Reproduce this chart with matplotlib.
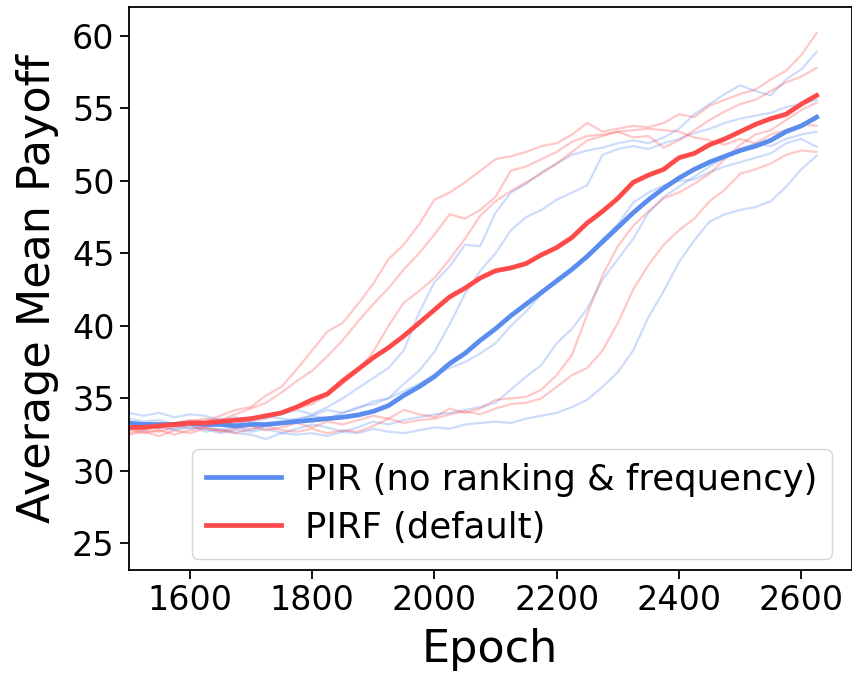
import numpy as np
import matplotlib
matplotlib.use("Agg")
import matplotlib.pyplot as plt

epochs = list(range(1500, 2626, 25))

# thin individual runs (PIR, blue)
pir_run1 = [34.0, 33.8, 34.0, 33.7, 33.9, 33.8, 33.5, 33.7, 33.4, 33.6, 33.9, 34.2, 33.9, 34.4, 35.0, 35.7,
            36.4, 37.1, 38.3, 40.9, 43.0, 44.1, 45.6, 45.5, 47.8, 49.2, 49.8, 50.6, 51.2, 51.8, 52.1, 52.3,
            52.6, 52.8, 52.6, 53.0, 53.6, 54.6, 55.3, 56.0, 56.6, 56.2, 55.9, 57.0, 57.7, 58.9]
pir_run2 = [33.6, 33.4, 33.5, 33.2, 33.4, 33.2, 33.6, 33.3, 33.5, 33.8, 33.6, 33.5, 33.8, 33.6, 34.0, 34.3,
            34.8, 35.0, 36.0, 36.9, 38.2, 40.1, 42.2, 43.8, 45.0, 46.6, 47.5, 48.0, 48.7, 49.2, 49.7, 51.8,
            52.2, 52.4, 52.2, 52.6, 52.9, 53.3, 53.6, 54.0, 54.3, 54.5, 54.7, 55.1, 55.3, 55.6]
pir_run3 = [33.1, 33.3, 33.0, 33.2, 32.9, 33.1, 32.8, 33.0, 32.8, 33.1, 33.3, 33.6, 33.8, 34.2, 34.0, 34.4,
            34.6, 35.0, 35.5, 36.0, 36.6, 37.1, 37.5, 38.1, 38.8, 40.0, 41.0, 42.2, 43.2, 44.0, 44.8, 46.0,
            47.0, 48.5, 49.2, 49.7, 50.0, 50.1, 50.6, 51.0, 51.3, 51.6, 51.9, 52.6, 52.9, 52.35]
pir_run4 = [33.0, 32.8, 33.1, 32.9, 33.2, 32.7, 32.9, 32.6, 32.5, 32.2, 32.6, 32.9, 33.2, 33.0, 32.7, 33.0,
            33.4, 33.2, 33.5, 33.7, 33.9, 34.0, 34.2, 34.4, 34.7, 35.6, 36.5, 37.3, 38.8, 39.8, 41.2, 43.2,
            44.6, 46.0, 47.8, 48.9, 49.6, 50.3, 51.0, 51.6, 52.2, 52.6, 52.4, 52.9, 53.2, 53.4]
pir_run5 = [33.4, 33.2, 33.0, 32.8, 33.0, 32.9, 32.6, 32.8, 32.7, 32.9, 32.6, 32.5, 32.6, 32.4, 32.7, 32.6,
            32.9, 32.7, 32.6, 32.8, 33.0, 32.9, 33.2, 33.3, 33.4, 33.3, 33.6, 33.8, 34.0, 34.4, 34.9, 35.8,
            36.8, 38.3, 40.6, 42.4, 44.4, 45.9, 47.2, 47.7, 48.0, 48.2, 48.6, 49.6, 50.8, 51.75]

# thin individual runs (PIRF, red)
pirf_run1 = [32.8, 33.0, 32.9, 33.3, 33.5, 33.4, 33.8, 34.2, 34.4, 35.2, 35.8, 37.0, 38.3, 39.6, 40.2, 41.5,
             42.9, 44.6, 45.6, 47.0, 48.7, 49.2, 49.9, 50.7, 51.5, 51.7, 52.0, 52.4, 52.6, 53.2, 54.0, 53.4,
             53.6, 53.8, 53.7, 54.0, 54.6, 54.4, 55.2, 55.6, 56.0, 56.3, 57.0, 57.6, 58.7, 60.2]
pirf_run2 = [33.2, 33.0, 33.3, 33.1, 33.4, 33.6, 33.5, 33.9, 34.3, 34.7, 35.4, 36.2, 36.9, 37.9, 39.0, 40.3,
             41.5, 42.6, 43.9, 45.0, 46.3, 47.7, 47.4, 48.0, 48.9, 50.7, 51.0, 51.5, 52.0, 52.7, 53.1, 53.2,
             53.4, 53.0, 53.1, 52.3, 52.8, 53.5, 54.2, 54.8, 55.3, 55.6, 56.2, 56.8, 57.2, 57.8]
pirf_run3 = [32.6, 32.8, 32.7, 33.0, 33.1, 33.0, 33.3, 33.2, 33.5, 33.7, 34.0, 34.3, 34.6, 35.2, 36.0, 36.9,
             38.2, 40.0, 41.6, 42.4, 43.3, 44.6, 46.0, 47.6, 48.6, 49.3, 49.9, 50.5, 51.2, 52.0, 52.8, 53.1,
             53.4, 53.5, 53.6, 53.5, 53.4, 53.0, 52.8, 52.5, 52.9, 52.6, 53.2, 53.5, 53.9, 53.8]
pirf_run4 = [32.9, 32.6, 32.8, 32.5, 32.8, 33.0, 32.7, 32.9, 33.1, 32.8, 33.0, 33.3, 33.0, 33.4, 33.2, 33.5,
             33.8, 33.6, 34.2, 33.9, 33.7, 34.3, 34.0, 34.3, 34.9, 35.0, 35.1, 35.6, 36.6, 38.0, 40.8, 43.5,
             45.5, 46.9, 47.9, 48.8, 49.2, 49.8, 50.5, 51.5, 52.5, 53.2, 53.5, 54.2, 54.9, 55.4]
pirf_run5 = [32.5, 32.7, 32.4, 32.8, 32.6, 32.9, 32.8, 32.6, 32.9, 33.1, 32.8, 32.7, 32.9, 32.6, 32.8, 32.7,
             33.1, 33.6, 33.3, 33.5, 33.6, 33.9, 34.1, 33.9, 34.3, 34.6, 34.7, 35.0, 35.8, 36.6, 37.1, 38.3,
             40.2, 42.5, 44.2, 45.6, 46.6, 47.4, 48.6, 49.4, 50.5, 50.8, 51.2, 51.8, 52.1, 52.0]

# averaged curves
pir_mean = [33.3, 33.2, 33.2, 33.2, 33.3, 33.2, 33.2, 33.1, 33.2, 33.2, 33.3, 33.4, 33.5, 33.6, 33.7, 33.85,
            34.1, 34.5, 35.2, 35.8, 36.5, 37.4, 38.1, 39.0, 39.8, 40.7, 41.5, 42.3, 43.1, 43.9, 44.8, 45.8,
            46.8, 47.8, 48.7, 49.5, 50.2, 50.8, 51.3, 51.7, 52.1, 52.4, 52.8, 53.4, 53.8, 54.4]
pirf_mean = [33.0, 33.0, 33.1, 33.2, 33.3, 33.3, 33.4, 33.5, 33.6, 33.8, 34.0, 34.4, 34.9, 35.3, 36.2, 37.0,
             37.8, 38.5, 39.3, 40.2, 41.1, 42.0, 42.6, 43.3, 43.8, 44.0, 44.3, 44.9, 45.4, 46.1, 47.1, 47.9,
             48.8, 49.9, 50.4, 50.8, 51.6, 51.9, 52.5, 52.9, 53.4, 53.9, 54.3, 54.6, 55.3, 55.9]

labels = ["PIR (no ranking & frequency)", "PIRF (default)"]
xticks = [1600, 1800, 2000, 2200, 2400, 2600]
yticks = [25, 30, 35, 40, 45, 50, 55, 60]

BLUE = "#5b8def"
RED = "#ff4a4a"

plt.rcParams['font.family'] = ['DejaVu Sans']
fig = plt.figure(figsize=(8.52, 6.76), dpi=100)
ax = fig.add_axes([128.5 / 852, 1 - 570 / 676, (851.5 - 128.5) / 852, (570 - 6.7) / 676])

for run in [pir_run1, pir_run2, pir_run3, pir_run4, pir_run5]:
    ax.plot(epochs, run, color=BLUE, alpha=0.3, lw=1.6)
for run in [pirf_run1, pirf_run2, pirf_run3, pirf_run4, pirf_run5]:
    ax.plot(epochs, run, color=RED, alpha=0.3, lw=1.6)

ax.plot(epochs, pir_mean, color=BLUE, lw=3.4, label=labels[0])
ax.plot(epochs, pirf_mean, color=RED, lw=3.4, label=labels[1])

ax.set_xlim(1500, 2682)
ax.set_ylim(23.16, 62.02)
ax.set_xticks(xticks)
ax.set_yticks(yticks)
ax.tick_params(labelsize=24, length=6.5, width=1.3)
for s in ax.spines.values():
    s.set_linewidth(1.3)
ax.set_xlabel("Epoch", fontsize=32, labelpad=8)
ax.set_ylabel("Average Mean Payoff", fontsize=32, labelpad=9)
ax.legend(loc="lower right", fontsize=25.5, borderaxespad=0.0, labelspacing=0.4,
          handlelength=2.1, handletextpad=0.7, bbox_to_anchor=(0.973, 0.0195))

fig.savefig("out.png", dpi=100)
